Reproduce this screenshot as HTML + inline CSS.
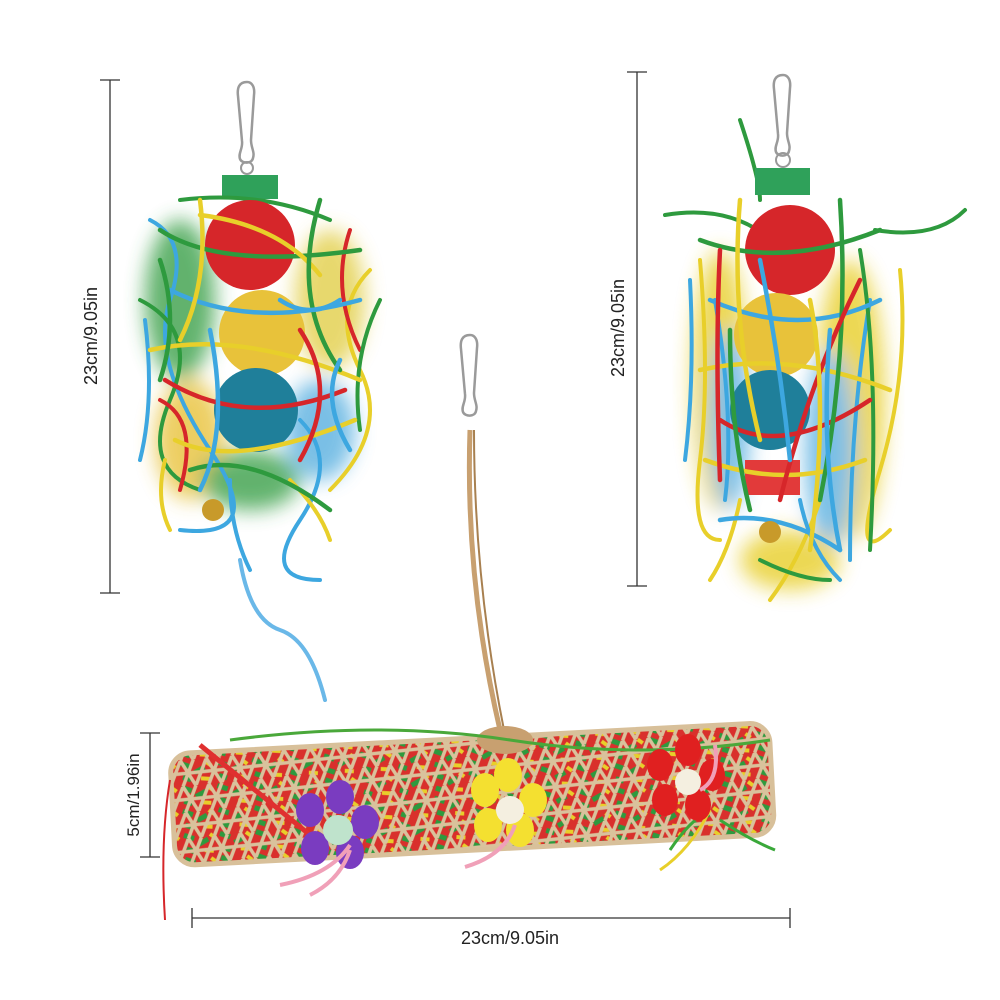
<!DOCTYPE html>
<html><head><meta charset="utf-8"><style>
html,body{margin:0;padding:0;background:#fff;}
svg{display:block}
text{font-family:"Liberation Sans",sans-serif;fill:#222;}
</style></head><body>
<svg width="1000" height="1000" viewBox="0 0 1000 1000" xmlns="http://www.w3.org/2000/svg">
<defs>
<pattern id="weave" width="26" height="26" patternUnits="userSpaceOnUse" patternTransform="rotate(-3)">
<path d="M0 26 L13 0 L26 26 M-13 26 L0 0 M13 26 L26 0 L39 26 M0 13 H26" stroke="#d9c29c" stroke-width="3.5" fill="none"/>
</pattern>
<pattern id="shred" width="36" height="24" patternUnits="userSpaceOnUse">
<rect width="36" height="24" fill="#d9302c"/>
<path d="M2 4 l10 4 M16 14 l10 -5 M4 18 l8 3" stroke="#2e9a3e" stroke-width="5"/>
<path d="M22 20 l9 1 M28 4 l5 4" stroke="#e8cf2a" stroke-width="4"/>
</pattern>
<filter id="blur"><feGaussianBlur stdDeviation="10"/></filter>
</defs>

<!-- dimension lines -->
<g stroke="#333" stroke-width="1.3" fill="none">
<path d="M110 80 V593 M100 80 H120 M100 593 H120"/>
<path d="M637 72 V586 M627 72 H647 M627 586 H647"/>
<path d="M150 733 V857 M140 733 H160 M140 857 H160"/>
<path d="M192 918 H790 M192 908 V928 M790 908 V928"/>
</g>
<text x="0" y="0" font-size="18" text-anchor="middle" transform="translate(97,336) rotate(-90)">23cm/9.05in</text>
<text x="0" y="0" font-size="18" text-anchor="middle" transform="translate(624,328) rotate(-90)">23cm/9.05in</text>
<text x="0" y="0" font-size="17" text-anchor="middle" transform="translate(139,795) rotate(-90)">5cm/1.96in</text>
<text x="510" y="944" font-size="18" text-anchor="middle">23cm/9.05in</text>

<!-- LEFT TOY -->
<g>
<path d="M247 82 c-8 0 -10 6 -9 14 l4 45 c1 8 -4 12 -2 18 c2 5 12 5 13 -1 c2 -6 -2 -10 -2 -18 l3 -45 c1 -8 -2 -13 -7 -13 z" stroke="#9a9a9a" stroke-width="2.5" fill="none"/>
<circle cx="247" cy="168" r="6" stroke="#999" stroke-width="2" fill="none"/>
<g filter="url(#blur)" opacity="0.8">
<ellipse cx="180" cy="300" rx="35" ry="80" fill="#3aa04a"/>
<ellipse cx="330" cy="300" rx="35" ry="70" fill="#e2cf4a"/>
<ellipse cx="190" cy="440" rx="35" ry="60" fill="#e8c23a"/>
<ellipse cx="320" cy="430" rx="35" ry="50" fill="#5ab0e0"/>
<ellipse cx="250" cy="480" rx="50" ry="30" fill="#3aa04a"/>
</g>
<rect x="222" y="175" width="56" height="24" fill="#2fa15a"/>
<g stroke-width="4" fill="none" stroke-linecap="round">
<path d="M150 220 q40 20 20 80 t40 150 t-30 80" stroke="#3da7e0"/>
<path d="M370 270 q-40 40 -10 100 t-30 120" stroke="#e8cf2a"/>
<path d="M140 300 q60 30 30 100 t30 90" stroke="#2e9a3e"/>
<path d="M350 230 q-20 60 10 120" stroke="#d6262a"/>
<path d="M160 400 q40 20 20 90" stroke="#d6262a"/>
<path d="M300 420 q40 40 0 100 t20 60" stroke="#3da7e0"/>
<path d="M240 560 q10 60 40 70 t45 70" stroke="#6ab8e8"/>
<path d="M180 200 q80 -10 150 20" stroke="#2e9a3e"/>
<path d="M145 320 q10 80 -5 140" stroke="#3da7e0"/>
<path d="M380 300 q-30 60 -20 130" stroke="#2e9a3e"/>
<path d="M165 460 q-10 40 5 70" stroke="#e8cf2a"/>
<path d="M230 480 q0 50 20 90" stroke="#3da7e0"/>
<path d="M290 480 q30 30 40 60" stroke="#e8cf2a"/>
</g>
<circle cx="250" cy="245" r="45" fill="#d6262a"/>
<circle cx="262" cy="333" r="43" fill="#e8c23a"/>
<circle cx="256" cy="410" r="42" fill="#1f7f9a"/>
<g stroke-width="4.5" fill="none" stroke-linecap="round">
<path d="M160 230 q60 40 200 20" stroke="#2e9a3e"/>
<path d="M200 215 q80 10 120 60" stroke="#e8cf2a"/>
<path d="M170 290 q80 40 190 10" stroke="#3da7e0"/>
<path d="M150 350 q90 -20 210 30" stroke="#e8cf2a"/>
<path d="M165 380 q80 50 180 10" stroke="#d6262a"/>
<path d="M175 440 q60 30 180 -20" stroke="#e8cf2a"/>
<path d="M190 470 q60 -20 140 40" stroke="#2e9a3e"/>
<path d="M200 200 q10 80 -20 140" stroke="#e8cf2a"/>
<path d="M320 200 q-30 100 20 170" stroke="#2e9a3e"/>
<path d="M210 330 q20 100 -10 160" stroke="#3da7e0"/>
<path d="M300 330 q40 60 0 130" stroke="#d6262a"/>
<path d="M160 260 q20 60 0 120" stroke="#2e9a3e"/>
<path d="M340 360 q-20 40 10 90" stroke="#3da7e0"/>
<path d="M280 300 q30 20 60 0" stroke="#3da7e0"/>
</g>
<circle cx="213" cy="510" r="11" fill="#c89a2a"/>
</g>

<!-- RIGHT TOY -->
<g>
<path d="M783 75 c-8 0 -10 6 -9 14 l4 45 c1 8 -4 12 -2 18 c2 5 12 5 13 -1 c2 -6 -2 -10 -2 -18 l3 -45 c1 -8 -2 -13 -7 -13 z" stroke="#9a9a9a" stroke-width="2.5" fill="none"/>
<circle cx="783" cy="160" r="7" stroke="#999" stroke-width="2" fill="none"/>
<g filter="url(#blur)" opacity="0.8">
<ellipse cx="720" cy="380" rx="28" ry="130" fill="#e8cf2a"/>
<ellipse cx="850" cy="400" rx="35" ry="140" fill="#e8cf2a"/>
<ellipse cx="730" cy="420" rx="20" ry="90" fill="#5ab0e0"/>
<ellipse cx="830" cy="450" rx="25" ry="100" fill="#5ab0e0"/>
<ellipse cx="790" cy="560" rx="50" ry="30" fill="#e8cf2a"/>
</g>
<g stroke-width="4" fill="none" stroke-linecap="round">
<path d="M665 215 q60 -10 100 20" stroke="#2e9a3e"/>
<path d="M965 210 q-30 30 -90 20" stroke="#2e9a3e"/>
<path d="M740 120 q20 60 20 80" stroke="#2e9a3e"/>
<path d="M700 260 q10 120 0 200 t20 80" stroke="#e8cf2a"/>
<path d="M900 270 q10 100 -20 200 t10 60" stroke="#e8cf2a"/>
<path d="M870 300 q-20 120 -20 260" stroke="#3da7e0"/>
<path d="M715 300 q20 120 10 200" stroke="#3da7e0"/>
<path d="M820 500 q-20 60 -50 100" stroke="#e8cf2a"/>
<path d="M760 560 q40 20 70 20" stroke="#2e9a3e"/>
<path d="M690 280 q5 100 -5 180" stroke="#3da7e0"/>
<path d="M860 250 q20 120 10 300" stroke="#2e9a3e"/>
<path d="M740 500 q-10 50 -30 80" stroke="#e8cf2a"/>
<path d="M800 500 q10 50 40 80" stroke="#3da7e0"/>
</g>
<rect x="755" y="168" width="55" height="27" fill="#2fa15a"/>
<circle cx="790" cy="250" r="45" fill="#d6262a"/>
<circle cx="776" cy="335" r="42" fill="#e8c23a"/>
<circle cx="770" cy="410" r="40" fill="#1f7f9a"/>
<rect x="745" y="460" width="55" height="35" fill="#e23a3a"/>
<g stroke-width="4.5" fill="none" stroke-linecap="round">
<path d="M700 240 q80 30 180 -10" stroke="#2e9a3e"/>
<path d="M710 300 q90 40 170 0" stroke="#3da7e0"/>
<path d="M700 370 q90 -20 190 20" stroke="#e8cf2a"/>
<path d="M720 420 q60 40 150 -20" stroke="#d6262a"/>
<path d="M705 460 q80 30 160 0" stroke="#e8cf2a"/>
<path d="M720 520 q60 -10 120 30" stroke="#3da7e0"/>
<path d="M740 200 q-10 120 20 240" stroke="#e8cf2a"/>
<path d="M840 200 q10 150 -20 300" stroke="#2e9a3e"/>
<path d="M860 280 q-50 100 -80 220" stroke="#d6262a"/>
<path d="M730 330 q0 100 20 180" stroke="#2e9a3e"/>
<path d="M720 250 q-5 100 0 230" stroke="#d6262a"/>
<path d="M810 300 q20 100 0 250" stroke="#e8cf2a"/>
<path d="M760 260 q20 100 30 200" stroke="#3da7e0"/>
<path d="M830 330 q-10 120 10 220" stroke="#3da7e0"/>
</g>
<circle cx="770" cy="532" r="11" fill="#c89a2a"/>
</g>

<!-- BOTTOM TOY -->
<path d="M470 335 c-8 0 -10 6 -9 14 l4 45 c1 8 -4 12 -2 18 c2 5 12 5 13 -1 c2 -6 -2 -10 -2 -18 l3 -45 c1 -8 -2 -13 -7 -13 z" stroke="#9a9a9a" stroke-width="2.5" fill="none"/>
<path d="M470 430 q-5 150 30 300" stroke="#c8a070" stroke-width="5" fill="none"/>
<path d="M474 430 q0 150 30 300" stroke="#a88050" stroke-width="2" fill="none"/>
<g transform="rotate(-3 475 790)">
<rect x="172" y="738" width="600" height="112" rx="20" fill="url(#shred)"/>
<rect x="172" y="738" width="600" height="112" rx="20" fill="url(#weave)" stroke="#d8c09a" stroke-width="5"/>
</g>
<ellipse cx="505" cy="740" rx="28" ry="14" fill="#c8a070"/>
<path d="M230 740 q150 -20 280 0 t260 0" stroke="#4aa83a" stroke-width="3" fill="none"/>
<path d="M200 745 l110 90" stroke="#e03030" stroke-width="5"/>
<path d="M170 780 q-10 60 -5 140" stroke="#d6262a" stroke-width="2" fill="none"/>
<path d="M670 850 q20 -30 40 -40 M720 820 q30 20 55 30" stroke="#3aa83a" stroke-width="3" fill="none"/>
<path d="M660 870 q30 -20 50 -60" stroke="#e8cf2a" stroke-width="3" fill="none"/>
<!-- flowers -->
<g fill="#7a3cc0">
<ellipse cx="310" cy="810" rx="14" ry="17"/><ellipse cx="340" cy="797" rx="14" ry="17"/><ellipse cx="365" cy="822" rx="14" ry="17"/><ellipse cx="350" cy="852" rx="14" ry="17"/><ellipse cx="315" cy="848" rx="14" ry="17"/></g>
<circle cx="338" cy="830" r="15" fill="#bfe3cc"/>
<path d="M350 845 q-20 30 -70 40 M350 850 q-10 30 -40 45" stroke="#f0a0b8" stroke-width="4" fill="none"/>
<g fill="#f4e030">
<ellipse cx="485" cy="790" rx="14" ry="17"/><ellipse cx="508" cy="775" rx="14" ry="17"/><ellipse cx="533" cy="800" rx="14" ry="17"/><ellipse cx="520" cy="830" rx="14" ry="17"/><ellipse cx="488" cy="825" rx="14" ry="17"/></g>
<circle cx="510" cy="810" r="14" fill="#f4efe0"/>
<path d="M515 825 q-10 30 -50 42" stroke="#f0a0b8" stroke-width="4" fill="none"/>
<g fill="#e02020">
<ellipse cx="660" cy="765" rx="13" ry="16"/><ellipse cx="688" cy="750" rx="13" ry="16"/><ellipse cx="712" cy="775" rx="13" ry="16"/><ellipse cx="698" cy="805" rx="13" ry="16"/><ellipse cx="665" cy="800" rx="13" ry="16"/></g>
<circle cx="688" cy="782" r="13" fill="#f4efe0"/>
<path d="M700 790 q20 -10 15 -45" stroke="#f0a0b8" stroke-width="4" fill="none"/>
</svg>
</body></html>
